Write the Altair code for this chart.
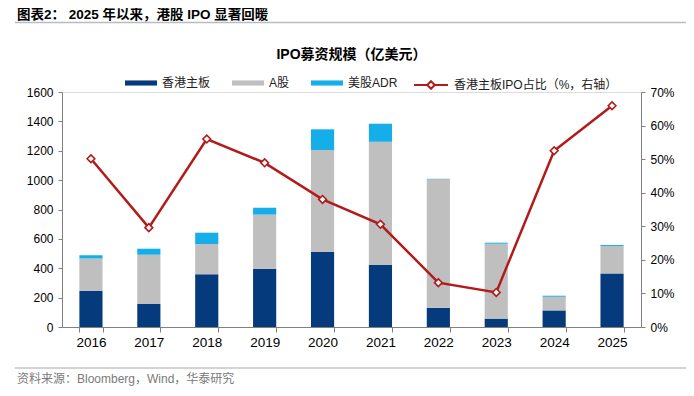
import altair as alt
import pandas as pd

years = ["2016", "2017", "2018", "2019", "2020", "2021", "2022", "2023", "2024", "2025"]
hk_main = [245, 157, 359, 397, 511, 422, 131, 57, 113, 365]
a_share = [222, 335, 206, 368, 694, 839, 876, 510, 93, 186]
us_adr = [21, 41, 77, 47, 141, 123, 2, 7, 7, 7]
hk_share = [50.1, 29.6, 56.0, 48.9, 38.0, 30.6, 13.2, 10.3, 52.5, 65.9]

series = ["香港主板", "A股", "美股ADR"]
colors = ["#053B7C", "#BFBFBF", "#16AEE8"]
line_name = "香港主板IPO占比（%，右轴）"
line_color = "#B31B1B"

header = "图表2： 2025 年以来，港股 IPO 显著回暖"
chart_title = "IPO募资规模（亿美元）"
footer = "资料来源：Bloomberg，Wind，华泰研究"
left_ticks = list(range(0, 1601, 200))
right_ticks = list(range(0, 71, 10))

FONT = "Liberation Sans, Arial, Noto Sans CJK SC"

rows = []
for i, y in enumerate(years):
    for k, (s, vals) in enumerate(zip(series, [hk_main, a_share, us_adr])):
        rows.append({"year": y, "series": s, "value": vals[i], "order": k})
bars_df = pd.DataFrame(rows)
line_df = pd.DataFrame({"year": years, "share": hk_share, "name": [line_name] * len(years)})

x_enc = alt.X(
    "year:N", sort=years, title=None,
    scale=alt.Scale(paddingInner=0.6, paddingOuter=0.3),
    axis=alt.Axis(labelAngle=0, tickBand="extent", tickSize=5, labelFontSize=13.5,
                  labelPadding=3, domainColor="#808080", tickColor="#808080",
                  labelColor="#000000", labelFont=FONT),
)

bars = alt.Chart(bars_df).mark_bar().encode(
    x=x_enc,
    y=alt.Y("value:Q", stack="zero", title=None,
            scale=alt.Scale(domain=[0, 1600], nice=False),
            axis=alt.Axis(values=left_ticks, orient="left", tickSize=4, labelFontSize=12,
                          labelPadding=5, domainColor="#808080", tickColor="#808080",
                          labelColor="#000000", labelFont=FONT, grid=False, format="d")),
    color=alt.Color("series:N", scale=alt.Scale(domain=series, range=colors),
                    legend=alt.Legend(orient="none", legendX=63, legendY=-25,
                                      direction="horizontal", title=None,
                                      symbolType="M-1,-0.16H1V0.16H-1Z", symbolSize=1024,
                                      symbolStrokeWidth=0, labelFontSize=12, labelFont=FONT,
                                      labelOffset=5, columnPadding=21, padding=0,
                                      labelColor="#222222")),
    order=alt.Order("order:Q"),
)

y_right = alt.Y("share:Q", title=None,
                scale=alt.Scale(domain=[0, 70], nice=False),
                axis=alt.Axis(values=right_ticks, orient="right", tickSize=4, labelFontSize=12,
                              labelPadding=5, domainColor="#808080", tickColor="#808080",
                              labelColor="#000000", labelFont=FONT, grid=False,
                              labelExpr="datum.value + '%'"))

line = alt.Chart(line_df).mark_line(strokeWidth=2.5).encode(
    x=alt.X("year:N", sort=years),
    y=y_right,
    stroke=alt.Stroke("name:N", scale=alt.Scale(range=[line_color]),
                      legend=alt.Legend(orient="none", legendX=351, legendY=-25, title=None,
                                        symbolType="M-1,0H-0.22M0.22,0H1M0,-0.22L0.22,0L0,0.22L-0.22,0Z",
                                        symbolSize=1156, symbolStrokeWidth=2,
                                        symbolFillColor="#FFFFFF", labelFontSize=12,
                                        labelFont=FONT, labelOffset=5, padding=0,
                                        labelLimit=300, labelColor="#222222")),
)

points = alt.Chart(line_df).mark_point(shape="diamond", filled=True, fill="#FFFFFF",
                                        stroke=line_color, strokeWidth=1.6, size=60,
                                        opacity=1).encode(
    x=alt.X("year:N", sort=years),
    y=y_right,
)

one = pd.DataFrame({"a": [0]})

header_txt = alt.Chart(pd.DataFrame({"t": [header]})).mark_text(
    align="left", baseline="middle", fontSize=13.5, fontWeight="bold", font=FONT, color="#000000"
).encode(text="t:N", x=alt.value(-45), y=alt.value(-77.5))

header_rule = alt.Chart(one).mark_rule(color="#B8BCC2", strokeWidth=1.5).encode(
    x=alt.value(-47), x2=alt.value(624), y=alt.value(-69.5))

title_txt = alt.Chart(pd.DataFrame({"t": [chart_title]})).mark_text(
    align="center", baseline="middle", fontSize=14, fontWeight="bold", font=FONT, color="#000000"
).encode(text="t:N", x=alt.value(289.5), y=alt.value(-37))

footer_rule = alt.Chart(one).mark_rule(color="#A8A8A8", strokeWidth=1.2).encode(
    x=alt.value(-47), x2=alt.value(624), y=alt.value(276))

footer_txt = alt.Chart(pd.DataFrame({"t": [footer]})).mark_text(
    align="left", baseline="middle", fontSize=12, font=FONT, color="#7A7A7A"
).encode(text="t:N", x=alt.value(-45), y=alt.value(287))

left_layer = bars
right_layer = alt.layer(line, points)

chart = alt.layer(
    left_layer, right_layer, header_txt, header_rule, title_txt, footer_rule, footer_txt
).resolve_scale(
    y="independent", color="independent", stroke="independent"
).properties(
    width=579, height=235,
    autosize=alt.AutoSizeParams(type="none"),
    padding={"left": 54, "top": 84, "right": 45, "bottom": 61},
).configure_view(stroke=None).configure(background="#FFFFFF")

chart.save("out.html", embed_options={"renderer": "svg", "actions": False})
